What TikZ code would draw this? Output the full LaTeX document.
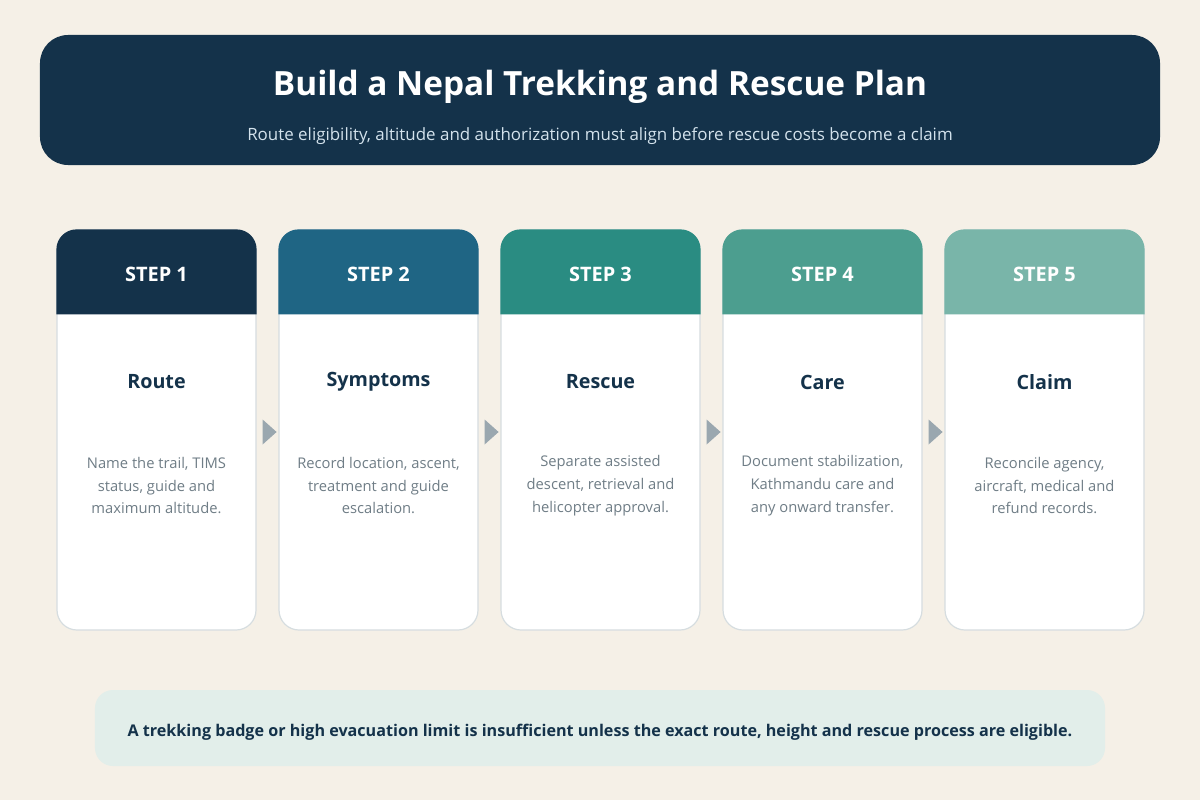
\documentclass[tikz,border=0pt]{standalone}
\usepackage{fontspec}
\setmainfont{Open Sans}
\usetikzlibrary{calc}

\definecolor{bgcream}{HTML}{F5F0E7}
\definecolor{navy}{HTML}{14324A}
\definecolor{subtxt}{HTML}{D3E2EC}
\definecolor{stepA}{HTML}{14324A}
\definecolor{stepB}{HTML}{1F6584}
\definecolor{stepC}{HTML}{2A8C82}
\definecolor{stepD}{HTML}{4C9E8F}
\definecolor{stepE}{HTML}{79B5A9}
\definecolor{cardline}{HTML}{D6DDE0}
\definecolor{desctxt}{HTML}{6F7D86}
\definecolor{arrowgray}{HTML}{9AA7AF}
\definecolor{notefill}{HTML}{E2EEEA}

\tikzset{
  cardbody/.style={draw=cardline, line width=1.2bp, fill=white, rounded corners=20bp,
    minimum width=199bp, minimum height=400bp, inner sep=0pt},
  steplabel/.style={text=white, font=\bfseries\fontsize{20}{22}\selectfont},
  cardtitle/.style={text=navy, font=\bfseries\fontsize{19.8}{22}\selectfont},
  carddesc/.style={text=desctxt, align=center, font=\fontsize{14.8}{23}\selectfont},
}

\begin{document}
\begin{tikzpicture}[x=1bp,y=-1bp]
  \useasboundingbox (0,0) rectangle (1200,800);
  \fill[bgcream] (0,0) rectangle (1200,800);
%% header
  \node[fill=navy, rounded corners=28bp, minimum width=1120bp, minimum height=130bp] (header) at (600,100) {};
  \node[text=white, font=\bfseries\fontsize{33.5}{36}\selectfont] (title) at (600,87) {Build a Nepal Trekking and Rescue Plan};
  \node[text=subtxt, font=\fontsize{17}{20}\selectfont] (subtitle) at (600,136) {Route eligibility, altitude and authorization must align before rescue costs become a claim};
%% cards
  \foreach \i/\col/\name/\desc in {
      1/stepA/Route/{Name the trail, TIMS\\status, guide and\\maximum altitude.},
      2/stepB/Symptoms/{Record location, ascent,\\treatment and guide\\escalation.},
      3/stepC/Rescue/{Separate assisted\\descent, retrieval and\\helicopter approval.},
      4/stepD/Care/{Document stabilization,\\Kathmandu care and\\any onward transfer.},
      5/stepE/Claim/{Reconcile agency,\\aircraft, medical and\\refund records.}} {
    \pgfmathsetmacro\cx{156.5+(\i-1)*222}
    \node[cardbody] (card\i) at (\cx,430) {};
    \fill[\col] ($(card\i.north west)+(0,85)$) {[rounded corners=20bp] -- (card\i.north west) -- (card\i.north east)} -- ($(card\i.north east)+(0,85)$) -- cycle;
    \node[steplabel] (step\i) at (\cx,274) {STEP \i};
    \node[cardtitle] (name\i) at (\cx,382) {\name};
    \node[carddesc] (desc\i) at (\cx,485.5) {\desc};
  }
%% arrows between cards
  \foreach \i in {1,...,4} {
    \fill[arrowgray] ($(card\i.east)+(6,-10.5)$) -- ($(card\i.east)+(20,2)$) -- ($(card\i.east)+(6,14.5)$) -- cycle;
  }
%% note
  \node[fill=notefill, rounded corners=18bp, minimum width=1010bp, minimum height=76bp] (notebox) at (600,728) {};
  \node[text=navy, font=\bfseries\fontsize{16.2}{19}\selectfont] (note) at (600,732) {A trekking badge or high evacuation limit is insufficient unless the exact route, height and rescue process are eligible.};
\end{tikzpicture}
\end{document}
